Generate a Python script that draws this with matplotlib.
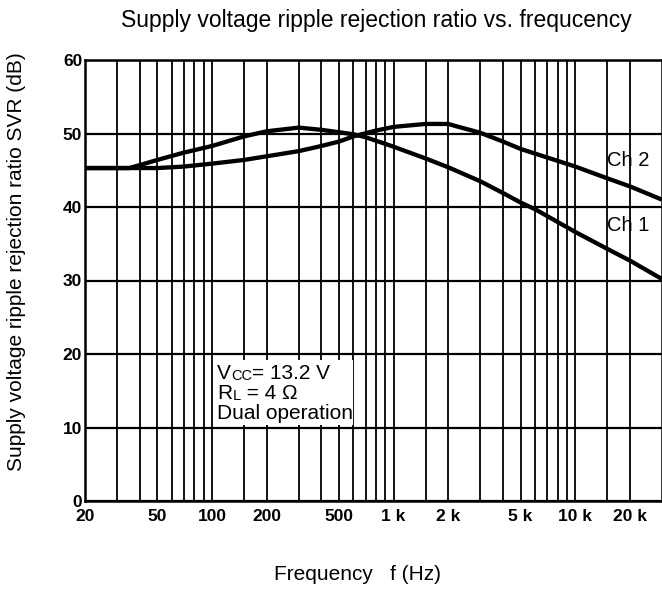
import numpy as np
import matplotlib
matplotlib.use('Agg')
import matplotlib.pyplot as plt
from matplotlib.patches import Rectangle

plt.rcParams['font.family'] = ['Liberation Sans', 'DejaVu Sans']

# values
ch1_freq = [20, 35, 40, 50, 70, 100, 150, 200, 300, 400, 600, 700, 1000,
            1500, 2000, 3000, 4000, 5000, 6000, 10000, 15000, 20000, 30000]
ch1_svr = [45.3, 45.3, 45.7, 46.4, 47.4, 48.3, 49.6, 50.3, 50.8, 50.5, 49.9,
           49.5, 48.2, 46.6, 45.4, 43.5, 41.9, 40.6, 39.7, 36.6, 34.3, 32.7, 30.2]

ch2_freq = [20, 50, 70, 100, 150, 200, 300, 400, 500, 600, 800, 1000, 1500,
            2000, 2200, 3000, 4000, 5000, 10000, 15000, 20000, 30000]
ch2_svr = [45.3, 45.3, 45.5, 45.9, 46.4, 46.9, 47.6, 48.3, 48.9, 49.6, 50.4,
           50.9, 51.3, 51.3, 51.0, 50.1, 48.9, 47.9, 45.5, 43.9, 42.8, 41.0]

grid_freq = [20, 30, 40, 50, 60, 70, 80, 90, 100, 150, 200, 300, 400, 500,
             600, 700, 800, 900, 1000, 1500, 2000, 3000, 4000, 5000, 6000,
             7000, 8000, 9000, 10000, 15000, 20000]
label_freq = {20: '20', 50: '50', 100: '100', 200: '200', 500: '500',
              1000: '1 k', 2000: '2 k', 5000: '5 k', 10000: '10 k', 20000: '20 k'}
y_ticks = [0, 10, 20, 30, 40, 50, 60]

fig = plt.figure(figsize=(6.62, 5.96), dpi=100)
ax = fig.add_axes([85 / 662, 1 - 501 / 596, 577 / 662, 441 / 596])

ax.set_xscale('log')
ax.set_xlim(20, 30000)
ax.set_ylim(0, 60)

ax.set_xticks(grid_freq)
ax.set_xticklabels([label_freq.get(f, '') for f in grid_freq])
ax.xaxis.set_minor_locator(matplotlib.ticker.NullLocator())
ax.set_yticks(y_ticks)
ax.tick_params(length=0, labelsize=12.5, colors='black')
ax.tick_params(axis='x', pad=6)
ax.tick_params(axis='y', pad=2)
for lab in ax.get_xticklabels() + ax.get_yticklabels():
    lab.set_fontweight('bold')

ax.grid(True, axis='x', color='black', lw=1.3)
ax.grid(True, axis='y', color='black', lw=1.6)
for s in ax.spines.values():
    s.set_linewidth(1.8)

ax.plot(ch1_freq, ch1_svr, color='black', lw=3.1, solid_capstyle='butt')
ax.plot(ch2_freq, ch2_svr, color='black', lw=3.1, solid_capstyle='butt')

ax.text(15000, 46.3, 'Ch 2', fontsize=14.5, ha='left', va='center')
ax.text(15000, 37.5, 'Ch 1', fontsize=14.5, ha='left', va='center')

# white note box over the grid
ax.add_patch(Rectangle((101, 10.4), 495, 8.8, fc='white', ec='none', zorder=2.6))

def note_line(y, parts):
    prev = None
    for txt, size in parts:
        if prev is None:
            prev = ax.text(107, y, txt, fontsize=size, ha='left',
                           va='baseline', zorder=3)
        else:
            prev = ax.annotate(txt, xy=(1, 0), xycoords=prev, fontsize=size,
                               ha='left', va='bottom', zorder=3)

note_line(16.6, [('V', 15), ('CC', 10.5), ('= 13.2 V', 15)])
note_line(13.9, [('R', 15), ('L', 10.5), (' = 4 \u03a9', 15)])
note_line(11.2, [('Dual operation', 15)])

fig.text(357 / 662, 1 - 575 / 596, 'Frequency   f (Hz)', fontsize=15,
         ha='center', va='center')
fig.text(17 / 662, 1 - 262 / 596,
         'Supply voltage ripple rejection ratio SVR (dB)', fontsize=15,
         rotation=90, ha='center', va='center')
fig.text(376 / 662, 1 - 21 / 596,
         'Supply voltage ripple rejection ratio vs. frequcency',
         fontsize=16.5, ha='center', va='center')

fig.savefig('out.png', dpi=100)
